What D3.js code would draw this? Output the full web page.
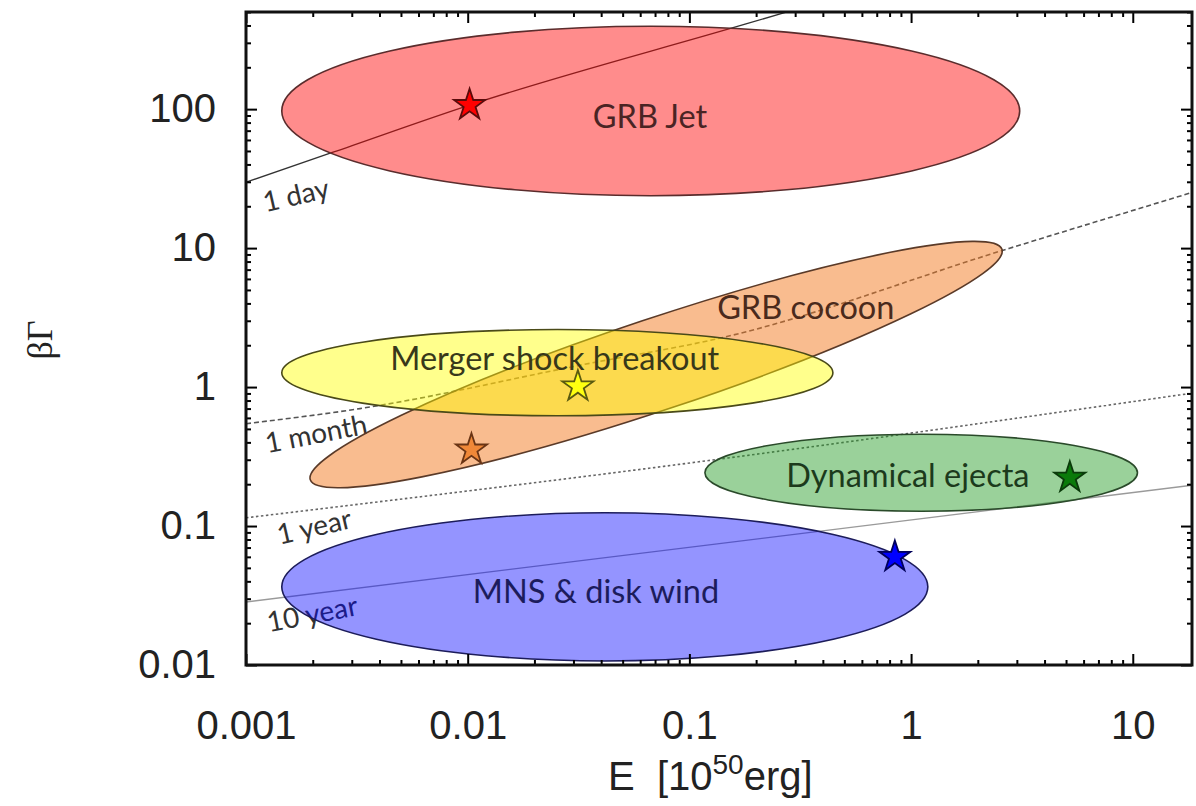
<!DOCTYPE html>
<html lang="en">
<head>
<meta charset="UTF-8">
<title>βΓ - E</title>
<style>
    html, body { margin: 0; padding: 0; background: #fff; }
    svg { display: block; }
</style>
</head>
<body>
<svg id="chart" width="1196" height="806"></svg>
<script src="https://cdn.jsdelivr.net/npm/d3@7/dist/d3.min.js"></script>
<script>
// ---- data ----
const xTicks = [0.001, 0.01, 0.1, 1, 10];
const xTickLabels = ["0.001", "0.01", "0.1", "1", "10"];
const yTicks = [0.01, 0.1, 1, 10, 100];
const yTickLabels = ["0.01", "0.1", "1", "10", "100"];

// regions: ends of the long axis (E, βΓ) and half width in decades of βΓ
const regionNames = ["GRB Jet", "GRB cocoon", "Merger shock breakout", "Dynamical ejecta", "MNS & disk wind"];
const regionE1 = [0.00145, 0.00195, 0.00145, 0.1175, 0.00145];
const regionG1 = [97, 0.215, 1.27, 0.242, 0.0365];
const regionE2 = [3.09, 2.57, 0.444, 10.5, 1.19];
const regionG2 = [97, 9.8, 1.27, 0.242, 0.0365];
const regionHalfDex = [0.61, 0.33, 0.31, 0.277, 0.533];
const labelE = [0.0664, 0.335, 0.0247, 0.967, 0.0379];
const labelG = [89, 3.78, 1.60, 0.230, 0.0341];

// stars (one per region)
const starE = [0.0102, 0.0104, 0.0314, 5.2, 0.845];
const starG = [107, 0.355, 1.01, 0.223, 0.060];

// constant-time lines
const timeNames = ["1 day", "1 month", "1 year", "10 year"];
const dayE = [0.001, 0.00247, 0.0102, 0.180, 0.284];
const dayG = [29.8, 49, 107, 410, 508];
const monthE = [0.001, 0.00327, 0.0331, 0.1476, 2.51, 19.2];
const monthG = [0.545, 0.70, 1.45, 2.31, 9.48, 25.6];
const yearE = [0.001, 0.152, 19.2];
const yearG = [0.1146, 0.310, 0.912];
const decadeE = [0.001, 19.2];
const decadeG = [0.0284, 0.198];
const timeLabelE = [0.00168, 0.00207, 0.00203, 0.00199];
const timeLabelG = [24, 0.462, 0.0989, 0.0233];

// ---- layout ----
const svg = d3.select("#chart");
const mLeft = 246, mRight = 1192, mTop = 12, mBottom = 665;

const x = d3.scaleLog().domain([0.001, 18.5]).range([mLeft, mRight]);
const y = d3.scaleLog().domain([0.01, 500]).range([mBottom, mTop]);

svg.append("defs").append("clipPath").attr("id", "plot")
    .append("rect").attr("x", mLeft).attr("y", mTop)
    .attr("width", mRight - mLeft).attr("height", mBottom - mTop);

// lines first: the coloured regions sit on top of them
const lineGen = d3.line().x(d => x(d[0])).y(d => y(d[1])).curve(d3.curveMonotoneX);
const lineStyles = [
    { stroke: "#333", width: 1.3, dash: null },
    { stroke: "#555", width: 1.6, dash: "5,3" },
    { stroke: "#666", width: 1.6, dash: "2.5,2.5" },
    { stroke: "#9a9a9a", width: 1.3, dash: null }
];
const lineData = [
    d3.zip(dayE, dayG), d3.zip(monthE, monthG), d3.zip(yearE, yearG), d3.zip(decadeE, decadeG)
];
const lines = svg.append("g").attr("clip-path", "url(#plot)");
lineData.forEach((pts, i) => {
    lines.append("path")
        .attr("d", lineGen(pts))
        .attr("fill", "none")
        .attr("stroke", lineStyles[i].stroke)
        .attr("stroke-width", lineStyles[i].width)
        .attr("stroke-dasharray", lineStyles[i].dash);
});

const labelAngles = [-13, -11, -13, -11];
svg.append("g").selectAll("text")
    .data(timeNames)
    .join("text")
    .attr("transform", (d, i) => `translate(${x(timeLabelE[i])},${y(timeLabelG[i])}) rotate(${labelAngles[i]})`)
    .attr("text-anchor", "middle")
    .attr("dy", "0.35em")
    .attr("font-family", "Lato, 'Open Sans', sans-serif")
    .attr("font-size", 28)
    .attr("fill", "#333")
    .text(d => d);

// regions
const fills = ["#ff0000", "#f47a20", "#ffff00", "#1f9a1f", "#0000ff"];
const fillOp = [0.45, 0.5, 0.45, 0.45, 0.42];
const strokes = ["#5a2c2c", "#5a3a28", "#4a4a18", "#2a4a2a", "#1c1c5a"];
const textColors = ["#4a2424", "#4a2a1c", "#38381a", "#1c3a1c", "#1c1c5c"];
const pxPerDex = y(1) - y(10);

const regions = svg.append("g");
regionNames.forEach((name, i) => {
    const x1 = x(regionE1[i]), y1 = y(regionG1[i]);
    const x2 = x(regionE2[i]), y2 = y(regionG2[i]);
    const cx = (x1 + x2) / 2, cy = (y1 + y2) / 2;
    const rx = Math.hypot(x2 - x1, y2 - y1) / 2;
    const ang = Math.atan2(y2 - y1, x2 - x1) * 180 / Math.PI;
    regions.append("ellipse")
        .attr("transform", `translate(${cx},${cy}) rotate(${ang})`)
        .attr("rx", rx)
        .attr("ry", regionHalfDex[i] * pxPerDex)
        .attr("fill", fills[i])
        .attr("fill-opacity", fillOp[i])
        .attr("stroke", strokes[i])
        .attr("stroke-width", 1.6);
});

svg.append("g").selectAll("text")
    .data(regionNames)
    .join("text")
    .attr("x", (d, i) => x(labelE[i]))
    .attr("y", (d, i) => y(labelG[i]))
    .attr("dy", "0.36em")
    .attr("text-anchor", "middle")
    .attr("font-family", "Lato, 'Open Sans', sans-serif")
    .attr("font-size", 32.5)
    .attr("fill", (d, i) => textColors[i])
    .text(d => d);

// stars
const starFill = ["#ff0000", "#f08838", "#ffff10", "#0a7a0a", "#0000ff"];
const starStroke = ["#5a0a0a", "#6a3414", "#5a5a10", "#0a3a0a", "#00005a"];
const star = d3.symbol().type(d3.symbolStar).size(300);
svg.append("g").selectAll("path")
    .data(starE)
    .join("path")
    .attr("transform", (d, i) => `translate(${x(d)},${y(starG[i])})`)
    .attr("d", star)
    .attr("fill", (d, i) => starFill[i])
    .attr("stroke", (d, i) => starStroke[i])
    .attr("stroke-width", 1.8);

// ---- axes: ticks inside on all four sides ----
const minor = [];
xTicks.forEach(t => d3.range(2, 10).forEach(k => { if (t * k <= 18.5) minor.push(t * k); }));
const minorY = [];
yTicks.forEach(t => d3.range(2, 10).forEach(k => { if (t * k <= 500) minorY.push(t * k); }));

function styleAxis(g) {
    g.select(".domain").remove();
    g.selectAll(".tick line").attr("stroke", "#000").attr("stroke-width", 2);
}

const fmtX = d => xTickLabels[xTicks.indexOf(d)];
const fmtY = d => yTickLabels[yTicks.indexOf(d)];

const xb = svg.append("g").attr("transform", `translate(0,${mBottom})`)
    .call(d3.axisBottom(x).tickValues(xTicks).tickFormat(fmtX).tickSize(-11).tickPadding(46));
xb.call(styleAxis);
xb.selectAll("text").attr("font-family", "'Liberation Sans', Arial, sans-serif").attr("font-size", 40).attr("fill", "#222");
svg.append("g").attr("transform", `translate(0,${mBottom})`)
    .call(d3.axisBottom(x).tickValues(minor).tickFormat("").tickSize(-5)).call(styleAxis);
svg.append("g").attr("transform", `translate(0,${mTop})`)
    .call(d3.axisTop(x).tickValues(xTicks).tickFormat("").tickSize(-11)).call(styleAxis);
svg.append("g").attr("transform", `translate(0,${mTop})`)
    .call(d3.axisTop(x).tickValues(minor).tickFormat("").tickSize(-5)).call(styleAxis);

const yl = svg.append("g").attr("transform", `translate(${mLeft},0)`)
    .call(d3.axisLeft(y).tickValues(yTicks).tickFormat(fmtY).tickSize(-11).tickPadding(30));
yl.call(styleAxis);
yl.selectAll("text").attr("font-family", "'Liberation Sans', Arial, sans-serif").attr("font-size", 40).attr("fill", "#222");
svg.append("g").attr("transform", `translate(${mLeft},0)`)
    .call(d3.axisLeft(y).tickValues(minorY).tickFormat("").tickSize(-5)).call(styleAxis);
svg.append("g").attr("transform", `translate(${mRight},0)`)
    .call(d3.axisRight(y).tickValues(yTicks).tickFormat("").tickSize(-11)).call(styleAxis);
svg.append("g").attr("transform", `translate(${mRight},0)`)
    .call(d3.axisRight(y).tickValues(minorY).tickFormat("").tickSize(-5)).call(styleAxis);

svg.append("rect")
    .attr("x", mLeft).attr("y", mTop)
    .attr("width", mRight - mLeft).attr("height", mBottom - mTop)
    .attr("fill", "none").attr("stroke", "#111").attr("stroke-width", 3);

// axis titles
const xt = svg.append("text")
    .attr("x", 608).attr("y", 790)
    .attr("font-family", "'Liberation Sans', Arial, sans-serif")
    .attr("font-size", 40).attr("fill", "#222");
xt.append("tspan").text("E\u00a0\u00a0[10");
xt.append("tspan").attr("dy", -16).attr("font-size", 28).text("50");
xt.append("tspan").attr("dy", 16).text("erg]");

svg.append("text")
    .attr("transform", "translate(52,340) rotate(-90)")
    .attr("text-anchor", "middle")
    .attr("font-family", "'Liberation Serif', 'DejaVu Serif', serif")
    .attr("font-size", 36).attr("fill", "#222")
    .text("βΓ");
</script>
</body>
</html>
